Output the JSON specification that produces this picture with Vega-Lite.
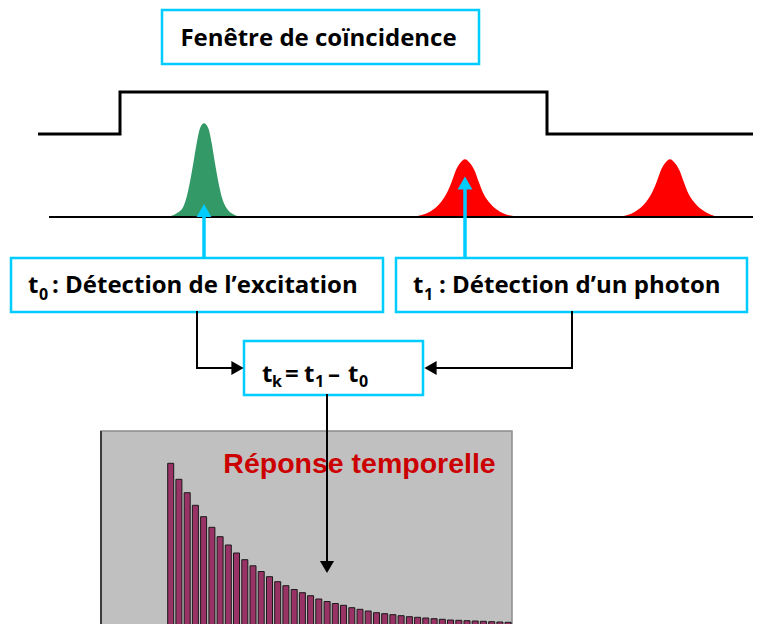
{
  "$schema": "https://vega.github.io/schema/vega-lite/v6.json",
  "width": 759,
  "height": 624,
  "autosize": "none",
  "padding": 0,
  "background": "white",
  "config": {"view": {"stroke": null}, "scale": {"continuousPadding": 0}},
  "datasets": {
    "panel": [{"x": 101, "x2": 512, "y": 431, "y2": 626}],
    "panelEdge": [{"x": 101, "x2": 101, "y": 431, "y2": 624}],
    "bars": [
      {"x": 170.7, "y": 463.3}, {"x": 178.9, "y": 479.3}, {"x": 187.2, "y": 492.7}, {"x": 195.4, "y": 505.3},
      {"x": 203.6, "y": 516.7}, {"x": 211.9, "y": 527.3}, {"x": 220.1, "y": 536.7}, {"x": 228.3, "y": 545.0},
      {"x": 236.5, "y": 553.0}, {"x": 244.8, "y": 559.7}, {"x": 253.0, "y": 565.8}, {"x": 261.2, "y": 571.5},
      {"x": 269.5, "y": 576.7}, {"x": 277.7, "y": 581.7}, {"x": 285.9, "y": 585.7}, {"x": 294.2, "y": 589.5},
      {"x": 302.4, "y": 592.7}, {"x": 310.6, "y": 595.7}, {"x": 318.8, "y": 599.0}, {"x": 327.1, "y": 601.5},
      {"x": 335.3, "y": 603.5}, {"x": 343.5, "y": 605.3}, {"x": 351.8, "y": 607.7}, {"x": 360.0, "y": 609.3},
      {"x": 368.2, "y": 611.0}, {"x": 376.5, "y": 612.7}, {"x": 384.7, "y": 613.7}, {"x": 392.9, "y": 614.7},
      {"x": 401.1, "y": 615.7}, {"x": 409.4, "y": 616.7}, {"x": 417.6, "y": 617.3}, {"x": 425.8, "y": 618.0},
      {"x": 434.1, "y": 618.7}, {"x": 442.3, "y": 619.3}, {"x": 450.5, "y": 620.0}, {"x": 458.8, "y": 620.3},
      {"x": 467.0, "y": 620.7}, {"x": 475.2, "y": 621.0}, {"x": 483.4, "y": 621.3}, {"x": 491.7, "y": 621.7},
      {"x": 499.9, "y": 622.0}, {"x": 508.1, "y": 622.3}
    ],
    "step": [
      {"i": 1, "x": 38, "y": 134}, {"i": 2, "x": 120, "y": 134}, {"i": 3, "x": 120, "y": 92},
      {"i": 4, "x": 547, "y": 92}, {"i": 5, "x": 547, "y": 134}, {"i": 6, "x": 753, "y": 134}
    ],
    "baseline": [{"x": 49, "x2": 753, "y": 217, "y2": 217}],
    "greenPeak": [
      {"x": 168.3, "y": 216.5}, {"x": 176.7, "y": 213.3}, {"x": 183.3, "y": 206.7}, {"x": 186.7, "y": 196.7},
      {"x": 190.0, "y": 181.7}, {"x": 193.3, "y": 163.3}, {"x": 196.7, "y": 143.3}, {"x": 200.0, "y": 128.3},
      {"x": 204.0, "y": 123.3}, {"x": 208.3, "y": 128.3}, {"x": 211.7, "y": 143.3}, {"x": 215.0, "y": 163.3},
      {"x": 218.3, "y": 181.7}, {"x": 221.7, "y": 196.7}, {"x": 226.7, "y": 208.3}, {"x": 233.3, "y": 214.3},
      {"x": 238.3, "y": 216.5}
    ],
    "redPeaks": [
      {"p": 1, "x": 413.3, "y": 216.5}, {"p": 1, "x": 430.0, "y": 211.7}, {"p": 1, "x": 440.0, "y": 203.3},
      {"p": 1, "x": 446.7, "y": 193.3}, {"p": 1, "x": 451.7, "y": 181.7}, {"p": 1, "x": 456.0, "y": 170.0},
      {"p": 1, "x": 460.0, "y": 163.3}, {"p": 1, "x": 465.0, "y": 159.3}, {"p": 1, "x": 470.0, "y": 163.3},
      {"p": 1, "x": 474.3, "y": 170.0}, {"p": 1, "x": 478.7, "y": 181.7}, {"p": 1, "x": 483.3, "y": 193.3},
      {"p": 1, "x": 490.0, "y": 203.3}, {"p": 1, "x": 500.0, "y": 211.7}, {"p": 1, "x": 516.0, "y": 216.5},
      {"p": 2, "x": 620.0, "y": 216.5}, {"p": 2, "x": 635.0, "y": 211.7}, {"p": 2, "x": 645.0, "y": 203.3},
      {"p": 2, "x": 651.7, "y": 193.3}, {"p": 2, "x": 656.7, "y": 181.7}, {"p": 2, "x": 661.0, "y": 170.0},
      {"p": 2, "x": 665.0, "y": 163.3}, {"p": 2, "x": 670.0, "y": 159.3}, {"p": 2, "x": 675.0, "y": 163.3},
      {"p": 2, "x": 679.3, "y": 170.0}, {"p": 2, "x": 683.7, "y": 181.7}, {"p": 2, "x": 688.3, "y": 193.3},
      {"p": 2, "x": 695.0, "y": 203.3}, {"p": 2, "x": 705.0, "y": 211.7}, {"p": 2, "x": 716.0, "y": 216.5}
    ],
    "cyanLines": [
      {"x": 204, "x2": 204, "y": 257, "y2": 212},
      {"x": 465, "x2": 465, "y": 257, "y2": 185}
    ],
    "boxes": [
      {"x": 162, "x2": 479, "y": 10, "y2": 64},
      {"x": 11, "x2": 383, "y": 258, "y2": 312},
      {"x": 396, "x2": 747, "y": 258, "y2": 312},
      {"x": 244, "x2": 423, "y": 341, "y2": 395}
    ],
    "connectors": [
      {"x": 197, "x2": 197, "y": 312, "y2": 368},
      {"x": 197, "x2": 232, "y": 368, "y2": 368},
      {"x": 572, "x2": 572, "y": 312, "y2": 368},
      {"x": 572, "x2": 436, "y": 368, "y2": 368},
      {"x": 327, "x2": 327, "y": 395, "y2": 562}
    ],
    "headsUp": [{"x": 204, "y": 210.5}, {"x": 465, "y": 183}],
    "headsRight": [{"x": 237.5, "y": 368}],
    "headsLeft": [{"x": 430.5, "y": 368}],
    "headsDown": [{"x": 327, "y": 567}],
    "title": [{"x": 318.5, "y": 46, "text": "Fenêtre de coïncidence"}],
    "mainText": [
      {"x": 28, "y": 293, "text": "t"},
      {"x": 52, "y": 293, "text": ": Détection de l’excitation"},
      {"x": 413, "y": 293, "text": "t"},
      {"x": 439, "y": 293, "text": ": Détection d’un photon"},
      {"x": 262, "y": 382, "text": "t"},
      {"x": 285, "y": 382, "text": "="},
      {"x": 304, "y": 382, "text": "t"},
      {"x": 328, "y": 382, "text": "–"},
      {"x": 348, "y": 382, "text": "t"}
    ],
    "subText": [
      {"x": 39, "y": 300, "text": "0"},
      {"x": 424, "y": 300, "text": "1"},
      {"x": 272, "y": 387, "text": "k"},
      {"x": 315, "y": 387, "text": "1"},
      {"x": 359, "y": 387, "text": "0"}
    ],
    "response": [{"x": 359.5, "y": 473, "text": "Réponse temporelle"}]
  },
  "encoding": {
    "x": {"field": "x", "type": "quantitative", "scale": {"domain": [0, 759], "nice": false, "zero": false, "padding": 0}, "axis": null},
    "y": {"field": "y", "type": "quantitative", "scale": {"domain": [0, 624], "nice": false, "zero": false, "reverse": true, "padding": 0}, "axis": null}
  },
  "layer": [
    {
      "data": {"name": "panel"},
      "mark": {"type": "rect", "fill": "#c0c0c0", "stroke": "#8c8c8c", "strokeWidth": 1.5},
      "encoding": {"x2": {"field": "x2"}, "y2": {"field": "y2"}}
    },
    {
      "data": {"name": "panelEdge"},
      "mark": {"type": "rule", "stroke": "#3c3c3c", "strokeWidth": 2},
      "encoding": {"x2": {"field": "x2"}, "y2": {"field": "y2"}}
    },
    {
      "data": {"name": "bars"},
      "mark": {"type": "bar", "fill": "#993366", "stroke": "#1a1a1a", "strokeWidth": 1, "size": 6, "orient": "vertical"},
      "encoding": {"y2": {"datum": 626}}
    },
    {
      "data": {"name": "response"},
      "mark": {"type": "text", "font": "Liberation Sans", "fontWeight": "bold", "fontSize": 28.5, "fill": "#cc0000", "align": "center", "baseline": "alphabetic"},
      "encoding": {"text": {"field": "text"}}
    },
    {
      "data": {"name": "step"},
      "mark": {"type": "line", "stroke": "black", "strokeWidth": 3, "strokeJoin": "miter"},
      "encoding": {"order": {"field": "i", "type": "quantitative"}}
    },
    {
      "data": {"name": "greenPeak"},
      "mark": {"type": "area", "fill": "#339966", "interpolate": "monotone", "opacity": 1},
      "encoding": {"y2": {"datum": 217}}
    },
    {
      "data": {"name": "redPeaks"},
      "mark": {"type": "area", "fill": "#ff0000", "interpolate": "monotone", "opacity": 1},
      "encoding": {"y2": {"datum": 217}, "detail": {"field": "p", "type": "nominal"}}
    },
    {
      "data": {"name": "baseline"},
      "mark": {"type": "rule", "stroke": "black", "strokeWidth": 2},
      "encoding": {"x2": {"field": "x2"}, "y2": {"field": "y2"}}
    },
    {
      "data": {"name": "cyanLines"},
      "mark": {"type": "rule", "stroke": "#00ccff", "strokeWidth": 3.5},
      "encoding": {"x2": {"field": "x2"}, "y2": {"field": "y2"}}
    },
    {
      "data": {"name": "headsUp"},
      "mark": {"type": "point", "shape": "triangle-up", "filled": true, "fill": "#00ccff", "opacity": 1, "size": 220, "strokeWidth": 0}
    },
    {
      "data": {"name": "boxes"},
      "mark": {"type": "rect", "fill": "white", "stroke": "#00ccff", "strokeWidth": 2.5},
      "encoding": {"x2": {"field": "x2"}, "y2": {"field": "y2"}}
    },
    {
      "data": {"name": "title"},
      "mark": {"type": "text", "font": "Open Sans", "fontWeight": "bold", "fontSize": 24, "fill": "black", "align": "center", "baseline": "alphabetic"},
      "encoding": {"text": {"field": "text"}}
    },
    {
      "data": {"name": "mainText"},
      "mark": {"type": "text", "font": "Open Sans", "fontWeight": "bold", "fontSize": 24, "fill": "black", "align": "left", "baseline": "alphabetic"},
      "encoding": {"text": {"field": "text"}}
    },
    {
      "data": {"name": "subText"},
      "mark": {"type": "text", "font": "Open Sans", "fontWeight": "bold", "fontSize": 16, "fill": "black", "align": "left", "baseline": "alphabetic"},
      "encoding": {"text": {"field": "text"}}
    },
    {
      "data": {"name": "connectors"},
      "mark": {"type": "rule", "stroke": "black", "strokeWidth": 2, "strokeCap": "square"},
      "encoding": {"x2": {"field": "x2"}, "y2": {"field": "y2"}}
    },
    {
      "data": {"name": "headsRight"},
      "mark": {"type": "point", "shape": "triangle-right", "filled": true, "fill": "black", "opacity": 1, "size": 200, "strokeWidth": 0}
    },
    {
      "data": {"name": "headsLeft"},
      "mark": {"type": "point", "shape": "triangle-left", "filled": true, "fill": "black", "opacity": 1, "size": 200, "strokeWidth": 0}
    },
    {
      "data": {"name": "headsDown"},
      "mark": {"type": "point", "shape": "triangle-down", "filled": true, "fill": "black", "opacity": 1, "size": 200, "strokeWidth": 0}
    }
  ]
}
